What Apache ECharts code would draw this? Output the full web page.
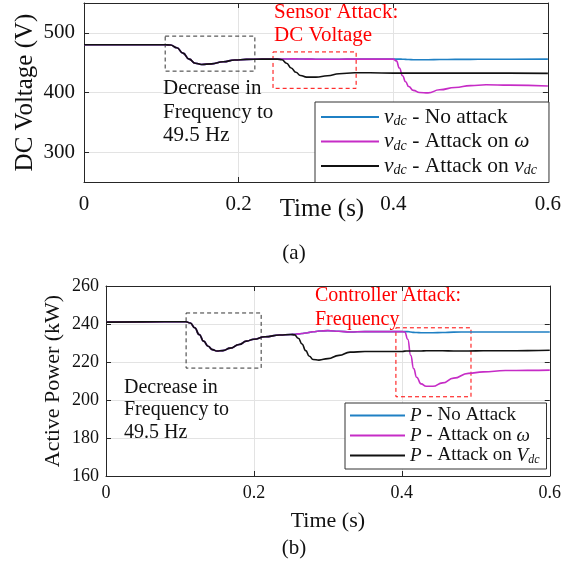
<!DOCTYPE html>
<html>
<head>
<meta charset="utf-8">
<script src="https://cdn.jsdelivr.net/npm/echarts@6/dist/echarts.min.js"></script>
<style>
html, body { margin: 0; padding: 0; background: #fff; }
#chart { width: 564px; height: 573px; }
</style>
</head>
<body>
<div id="chart"></div>
<script>
// ---- (a) DC voltage ----
var tTop = [0, 0.05, 0.105, 0.112, 0.12, 0.128, 0.136, 0.144, 0.152, 0.165, 0.18, 0.195, 0.21, 0.23, 0.25,
	0.256, 0.262, 0.268, 0.274, 0.28, 0.288, 0.3, 0.315, 0.33, 0.35, 0.37,
	0.4,
	0.404, 0.408, 0.412, 0.416, 0.42, 0.426, 0.434, 0.445, 0.46, 0.48, 0.5, 0.52, 0.55, 0.6];
var vdcNoAttack = [480, 480, 480, 479.5, 475, 466, 456, 449, 447, 448, 451.5, 454.5, 455.5, 456, 456,
	456, 456.2, 456.3, 456.3, 456.2, 456, 455.8, 455.7, 455.8, 456, 456,
	456,
	456, 456, 455.8, 455.5, 455.2, 455, 455, 455, 455.2, 455.5, 455.5, 455.8, 455.8, 456];
var vdcAttackW = [480, 480, 480, 479.5, 475, 466, 456, 449, 447, 448, 451.5, 454.5, 455.5, 456, 456,
	456, 456.2, 456.3, 456.3, 456.2, 456, 455.8, 455.7, 455.8, 456, 456,
	456,
	453, 441, 428, 418, 410, 403.5, 400, 399.3, 404.5, 408.5, 411.5, 413, 412.3, 411];
var vdcAttackVdc = [480, 480, 480, 479.5, 475, 466, 456, 449, 447, 448, 451.5, 454.5, 455.5, 456, 456,
	455, 449, 441, 434, 428.5, 425.8, 425.8, 428, 431.5, 433, 433,
	432.5,
	432.5, 432.5, 432.5, 432.5, 432.5, 432.5, 432.5, 432.5, 432.5, 432.5, 432.5, 432.5, 432.5, 432];
var topYTicks = [300, 400, 500];
// dashed boxes [t1, v1, t2, v2]
var topBoxFreq = [0.105, 494.5, 0.221, 435.8];
var topBoxSensor = [0.2445, 468, 0.352, 407];

// ---- (b) active power ----
var tBot = [0, 0.05, 0.108, 0.114, 0.12, 0.126, 0.132, 0.138, 0.144, 0.15, 0.158, 0.168, 0.18, 0.19, 0.2, 0.215, 0.235, 0.25,
	0.255, 0.26, 0.265, 0.27, 0.275, 0.28, 0.288, 0.3, 0.315, 0.33, 0.35, 0.38,
	0.4,
	0.404, 0.408, 0.412, 0.416, 0.42, 0.426, 0.433, 0.442, 0.455, 0.47, 0.49, 0.51, 0.54, 0.57, 0.6];
var pNoAttack = [241, 241.1, 241.2, 240.5, 238, 234.5, 231, 228.3, 226.5, 225.8, 226, 227.3, 229.2, 231, 232, 233.3, 234.2, 234.5,
	234.6, 234.8, 235, 235.3, 235.6, 235.9, 236.3, 236.5, 236.2, 235.8, 236, 236,
	236,
	236, 236, 235.8, 235.6, 235.5, 235.4, 235.4, 235.4, 235.5, 235.7, 235.8, 235.8, 235.8, 235.8, 235.8];
var pAttackW = [241, 241.1, 241.2, 240.5, 238, 234.5, 231, 228.3, 226.5, 225.8, 226, 227.3, 229.2, 231, 232, 233.3, 234.2, 234.5,
	234.6, 234.8, 235, 235.3, 235.6, 235.9, 236.3, 236.5, 236.2, 235.8, 236, 236,
	236,
	235.8, 232, 223.5, 216.5, 212, 208.5, 207.2, 207.2, 209, 211.5, 214, 214.8, 215.5, 215.6, 215.7];
var pAttackVdc = [241, 241.1, 241.2, 240.5, 238, 234.5, 231, 228.3, 226.5, 225.8, 226, 227.3, 229.2, 231, 232, 233.3, 234.2, 234.5,
	234.3, 232.5, 229.5, 226, 223, 221.3, 221, 221.8, 223.5, 225.2, 225.5, 225.5,
	225.5,
	225.7, 225.8, 225.8, 225.8, 225.8, 225.8, 225.9, 225.9, 225.9, 225.8, 225.8, 225.9, 225.9, 226, 226.2];
var botBoxFreq = [0.1083, 245.8, 0.2098, 216.8];
var botBoxCtrl = [0.392, 238, 0.4935, 201.7];

var FONT = '"Liberation Serif", "DejaVu Serif", serif';
var AXIS_COLOR = '#262626';
var GRID_COLOR = '#e3e3e3';
var BLUE = '#1f80c4';
var MAGENTA = '#c62cc6';

var myChart = echarts.init(document.getElementById('chart'));

function pairs(t, v){
	return t.map(function(x, i){ return [x, v[i]]; });
}
function fmtTime(v){
	return String(Math.round(v * 10) / 10);
}
function box(b, color){
	return [{coord: [b[0], b[1]], itemStyle: {borderColor: color}}, {coord: [b[2], b[3]]}];
}

function xAxisMain(grid, labelSize, nameSize, margin, nameGap, namePad){
	return {
		gridIndex: grid, type: 'value', min: 0, max: 0.6, interval: 0.2, position: 'bottom',
		axisLine: {show: true, onZero: false, lineStyle: {color: AXIS_COLOR}},
		axisTick: {inside: true, length: 5, lineStyle: {color: AXIS_COLOR}},
		axisLabel: {formatter: fmtTime, margin: margin, fontSize: labelSize, fontFamily: FONT, color: '#111'},
		splitLine: {show: true, lineStyle: {color: GRID_COLOR}},
		name: 'Time (s)', nameLocation: 'middle', nameGap: nameGap, nameMoveOverlap: false,
		nameTextStyle: {fontSize: nameSize, fontFamily: FONT, color: '#111', padding: namePad}
	};
}
function xAxisTop(grid){
	return {
		gridIndex: grid, type: 'value', min: 0, max: 0.6, interval: 0.2, position: 'top',
		axisLine: {show: true, onZero: false, lineStyle: {color: AXIS_COLOR}},
		axisTick: {inside: true, length: 5, lineStyle: {color: AXIS_COLOR}},
		axisLabel: {show: false}, splitLine: {show: false}
	};
}
function yAxisRight(grid, min, max, extra){
	var ax = {
		gridIndex: grid, type: 'value', min: min, max: max, position: 'right',
		axisLine: {show: true, onZero: false, lineStyle: {color: AXIS_COLOR}},
		axisTick: {show: true, inside: true, length: 5, lineStyle: {color: AXIS_COLOR}},
		axisLabel: {show: false}, splitLine: {show: false}
	};
	return Object.assign(ax, extra || {});
}

var topNames = ['vdc - No attack', 'vdc - Attack on w', 'vdc - Attack on vdc'];
var botNames = ['P - No Attack', 'P - Attack on w', 'P - Attack on Vdc'];

var legendRich = function(size, sub){
	return {
		it: {fontFamily: FONT, fontStyle: 'italic', fontSize: size, color: '#111', lineHeight: size + 1},
		n: {fontFamily: FONT, fontSize: size, color: '#111', lineHeight: size + 1},
		sub: {fontFamily: FONT, fontStyle: 'italic', fontSize: sub, color: '#111', padding: [9, 0, 0, 0]}
	};
};

var option = {
	animation: false,
	grid: [
		{left: 84, top: 3, width: 466, height: 179},
		{left: 106, top: 286, width: 447, height: 190}
	],
	xAxis: [
		xAxisMain(0, 21, 25, 12, 15, [0, 0, 0, 12]),
		xAxisTop(0),
		xAxisMain(1, 18, 22, 8, 34, [0, 0, 0, 0]),
		xAxisTop(1)
	],
	yAxis: [
		{
			gridIndex: 0, type: 'value', min: 250, max: 550,
			axisLine: {show: true, onZero: false, lineStyle: {color: AXIS_COLOR}},
			axisTick: {inside: true, length: 5, customValues: topYTicks, lineStyle: {color: AXIS_COLOR}},
			axisLabel: {customValues: topYTicks, margin: 9, fontSize: 21, fontFamily: FONT, color: '#111'},
			splitLine: {show: true, lineStyle: {color: GRID_COLOR}},
			name: 'DC Voltage (V)', nameLocation: 'middle', nameGap: 46, nameMoveOverlap: false,
			nameTextStyle: {fontSize: 25, fontFamily: FONT, color: '#111'}
		},
		yAxisRight(0, 250, 550, {axisTick: {show: true, inside: true, length: 5, customValues: topYTicks, lineStyle: {color: AXIS_COLOR}}}),
		{
			gridIndex: 1, type: 'value', min: 160, max: 260, interval: 20,
			axisLine: {show: true, onZero: false, lineStyle: {color: AXIS_COLOR}},
			axisTick: {inside: true, length: 5, lineStyle: {color: AXIS_COLOR}},
			axisLabel: {margin: 7, fontSize: 18, fontFamily: FONT, color: '#111'},
			splitLine: {show: true, lineStyle: {color: GRID_COLOR}},
			name: 'Active Power (kW)', nameLocation: 'middle', nameGap: 42, nameMoveOverlap: false,
			nameTextStyle: {fontSize: 22, fontFamily: FONT, color: '#111'}
		},
		yAxisRight(1, 160, 260, {interval: 20})
	],
	legend: [
		{
			data: topNames, left: 315, top: 102, orient: 'vertical', icon: 'rect',
			itemWidth: 58, itemHeight: 2, itemGap: 2, padding: [4, 12, 5, 6],
			borderColor: '#333', borderWidth: 1, backgroundColor: '#fff', selectedMode: false,
			textStyle: {fontFamily: FONT, fontSize: 21.5, color: '#111', rich: legendRich(21.5, 14)},
			formatter: function(name){
				if (name === topNames[0]) return '{it|v}{sub|dc}{n| - No attack}';
				if (name === topNames[1]) return '{it|v}{sub|dc}{n| - Attack on }{it|ω}';
				return '{it|v}{sub|dc}{n| - Attack on }{it|v}{sub|dc}';
			}
		},
		{
			data: botNames, left: 345, top: 403, orient: 'vertical', icon: 'rect',
			itemWidth: 55, itemHeight: 2, itemGap: 1, padding: [3, 7, 3, 5],
			borderColor: '#333', borderWidth: 1, backgroundColor: '#fff', selectedMode: false,
			textStyle: {fontFamily: FONT, fontSize: 19, color: '#111', rich: legendRich(19, 12)},
			formatter: function(name){
				if (name === botNames[0]) return '{it|P}{n| - No Attack}';
				if (name === botNames[1]) return '{it|P}{n| - Attack on }{it|ω}';
				return '{it|P}{n| - Attack on }{it|V}{sub|dc}';
			}
		}
	],
	series: [
		{name: topNames[0], type: 'line', xAxisIndex: 0, yAxisIndex: 0, data: pairs(tTop, vdcNoAttack),
			showSymbol: false, smooth: 0.5, smoothMonotone: 'x', lineStyle: {width: 1.6, color: BLUE}, itemStyle: {color: BLUE}},
		{name: topNames[1], type: 'line', xAxisIndex: 0, yAxisIndex: 0, data: pairs(tTop, vdcAttackW),
			showSymbol: false, smooth: 0.5, smoothMonotone: 'x', lineStyle: {width: 1.6, color: MAGENTA}, itemStyle: {color: MAGENTA}},
		{name: topNames[2], type: 'line', xAxisIndex: 0, yAxisIndex: 0, data: pairs(tTop, vdcAttackVdc),
			showSymbol: false, smooth: 0.5, smoothMonotone: 'x', lineStyle: {width: 1.6, color: '#111'}, itemStyle: {color: '#111'},
			markArea: {silent: true, itemStyle: {color: 'rgba(0,0,0,0)', borderWidth: 1, borderType: [4, 3]},
				data: [box(topBoxFreq, '#333'), box(topBoxSensor, '#f00')]}},
		{name: botNames[0], type: 'line', xAxisIndex: 2, yAxisIndex: 2, data: pairs(tBot, pNoAttack),
			showSymbol: false, smooth: 0.5, smoothMonotone: 'x', lineStyle: {width: 1.6, color: BLUE}, itemStyle: {color: BLUE}},
		{name: botNames[1], type: 'line', xAxisIndex: 2, yAxisIndex: 2, data: pairs(tBot, pAttackW),
			showSymbol: false, smooth: 0.5, smoothMonotone: 'x', lineStyle: {width: 1.6, color: MAGENTA}, itemStyle: {color: MAGENTA}},
		{name: botNames[2], type: 'line', xAxisIndex: 2, yAxisIndex: 2, data: pairs(tBot, pAttackVdc),
			showSymbol: false, smooth: 0.5, smoothMonotone: 'x', lineStyle: {width: 1.6, color: '#111'}, itemStyle: {color: '#111'},
			markArea: {silent: true, itemStyle: {color: 'rgba(0,0,0,0)', borderWidth: 1, borderType: [4, 3]},
				data: [box(botBoxFreq, '#333'), box(botBoxCtrl, '#f00')]}}
	],
	graphic: [
		{type: 'text', left: 163, top: 77, z: 10, style: {text: 'Decrease in\nFrequency to\n49.5 Hz',
			font: '21px "Liberation Serif", "DejaVu Serif", serif', lineHeight: 23.5, fill: '#111'}},
		{type: 'text', left: 274, top: 1, z: 10, style: {text: 'Sensor Attack:\nDC Voltage',
			font: '21px "Liberation Serif", "DejaVu Serif", serif', lineHeight: 23, fill: '#f00'}},
		{type: 'text', left: 124, top: 376, z: 10, style: {text: 'Decrease in\nFrequency to\n49.5 Hz',
			font: '20px "Liberation Serif", "DejaVu Serif", serif', lineHeight: 22.7, fill: '#111'}},
		{type: 'text', left: 315, top: 284, z: 10, style: {text: 'Controller Attack:\nFrequency',
			font: '20px "Liberation Serif", "DejaVu Serif", serif', lineHeight: 24, fill: '#f00'}},
		{type: 'text', x: 294, y: 253, z: 10, style: {text: '(a)', font: '21px "Liberation Serif", "DejaVu Serif", serif',
			fill: '#111', align: 'center', verticalAlign: 'middle'}},
		{type: 'text', x: 294, y: 548, z: 10, style: {text: '(b)', font: '21px "Liberation Serif", "DejaVu Serif", serif',
			fill: '#111', align: 'center', verticalAlign: 'middle'}}
	]
};
myChart.setOption(option);
</script>
</body>
</html>
